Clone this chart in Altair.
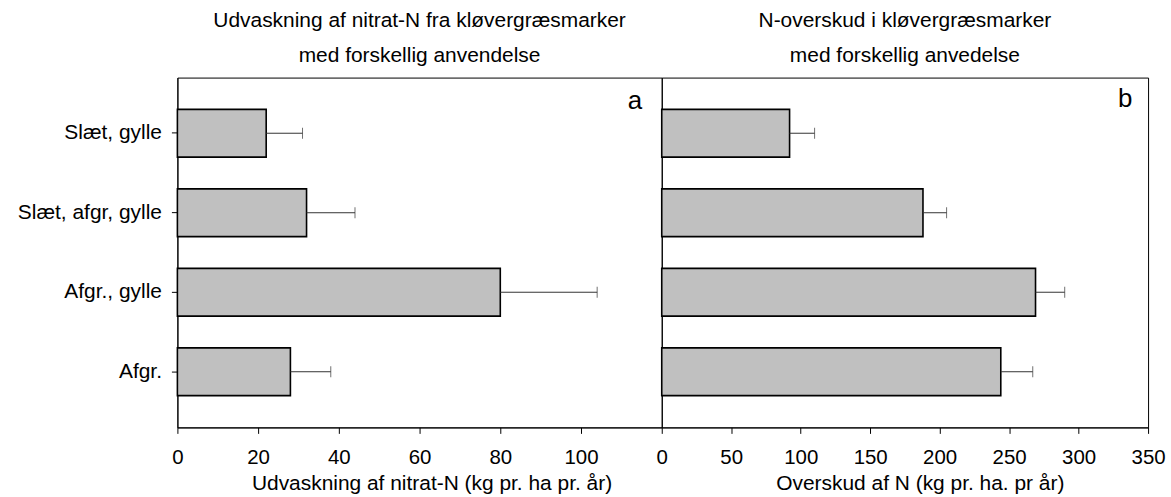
import altair as alt
import pandas as pd

# ---- data ----
categories = ["Slæt, gylle", "Slæt, afgr, gylle", "Afgr., gylle", "Afgr."]
leach_mean = [22, 32, 80, 28]
leach_err = [9, 12, 24, 10]
surplus_mean = [92, 188, 269, 244]
surplus_err = [18, 17, 21, 23]

title_a = ["Udvaskning af nitrat-N fra kløvergræsmarker", "med forskellig anvendelse"]
title_b = ["N-overskud i kløvergræsmarker", "med forskellig anvedelse"]
xtitle_a = "Udvaskning af nitrat-N (kg pr. ha pr. år)"
xtitle_b = "Overskud af N (kg pr. ha. pr år)"
ticks_a = [0, 20, 40, 60, 80, 100]
ticks_b = [0, 50, 100, 150, 200, 250, 300, 350]

FONT = "Liberation Sans"
W_A, W_B, H = 486, 488, 351

df_a = pd.DataFrame({"cat": categories, "mean": leach_mean, "err": leach_err})
df_b = pd.DataFrame({"cat": categories, "mean": surplus_mean, "err": surplus_err})


def panel(df, width, domain, ticks, xtitle, title, letter, show_y, xtitle_x, letter_x, letter_y):
    if show_y:
        yaxis = alt.Axis(title=None, labelFontSize=21, labelPadding=10, tickSize=6,
                         minExtent=165, maxExtent=165)
    else:
        yaxis = None
    y = alt.Y("cat:N", sort=categories,
              scale=alt.Scale(paddingInner=0.4, paddingOuter=0.4), axis=yaxis)
    xscale = alt.Scale(domain=domain, nice=False, zero=True)
    xaxis = alt.Axis(values=ticks, title=xtitle, tickSize=6, labelPadding=14,
                     titlePadding=5, titleX=xtitle_x, labelFlush=False)
    base = alt.Chart(df).transform_calculate(upper="datum.mean + datum.err")
    bars = base.mark_bar(color="#c0c0c0", stroke="black", strokeWidth=1.6).encode(
        x=alt.X("mean:Q", scale=xscale, axis=xaxis), y=y)
    rule = base.mark_rule(color="#333333", strokeWidth=1).encode(
        x="mean:Q", x2="upper:Q", y=y)
    cap = base.mark_tick(color="#333333", thickness=1, size=11).encode(
        x="upper:Q", y=y)
    lab = alt.Chart(pd.DataFrame({"t": [letter]})).mark_text(
        font=FONT, fontSize=26, color="black", align="center", baseline="middle").encode(
        text="t:N", x=alt.value(letter_x), y=alt.value(letter_y))
    return alt.layer(bars, rule, cap, lab).properties(
        width=width, height=H,
        title=alt.TitleParams(text=title, lineHeight=35, offset=12))


pa = panel(df_a, W_A, [0, 120], ticks_a, xtitle_a, title_a, "a", True, 255, 459, 24)
pb = panel(df_b, W_B, [0, 350], ticks_b, xtitle_b, title_b, "b", False, 259, 465, 22)

chart = alt.hconcat(pa, pb, spacing=0, bounds="flush").resolve_scale(x="independent").properties(
    padding={"left": 12, "top": 8, "right": 5, "bottom": 5}
).configure_view(stroke="black", strokeWidth=1).configure_axis(
    grid=False, domainColor="black", tickColor="black", labelColor="black",
    titleColor="black", labelFont=FONT, titleFont=FONT, labelFontSize=20.5,
    titleFontSize=21, titleFontWeight="normal"
).configure_title(
    font=FONT, fontSize=21, fontWeight="normal", color="black", anchor="middle"
)

chart.save("out.html", embed_options={"renderer": "svg", "actions": False})
